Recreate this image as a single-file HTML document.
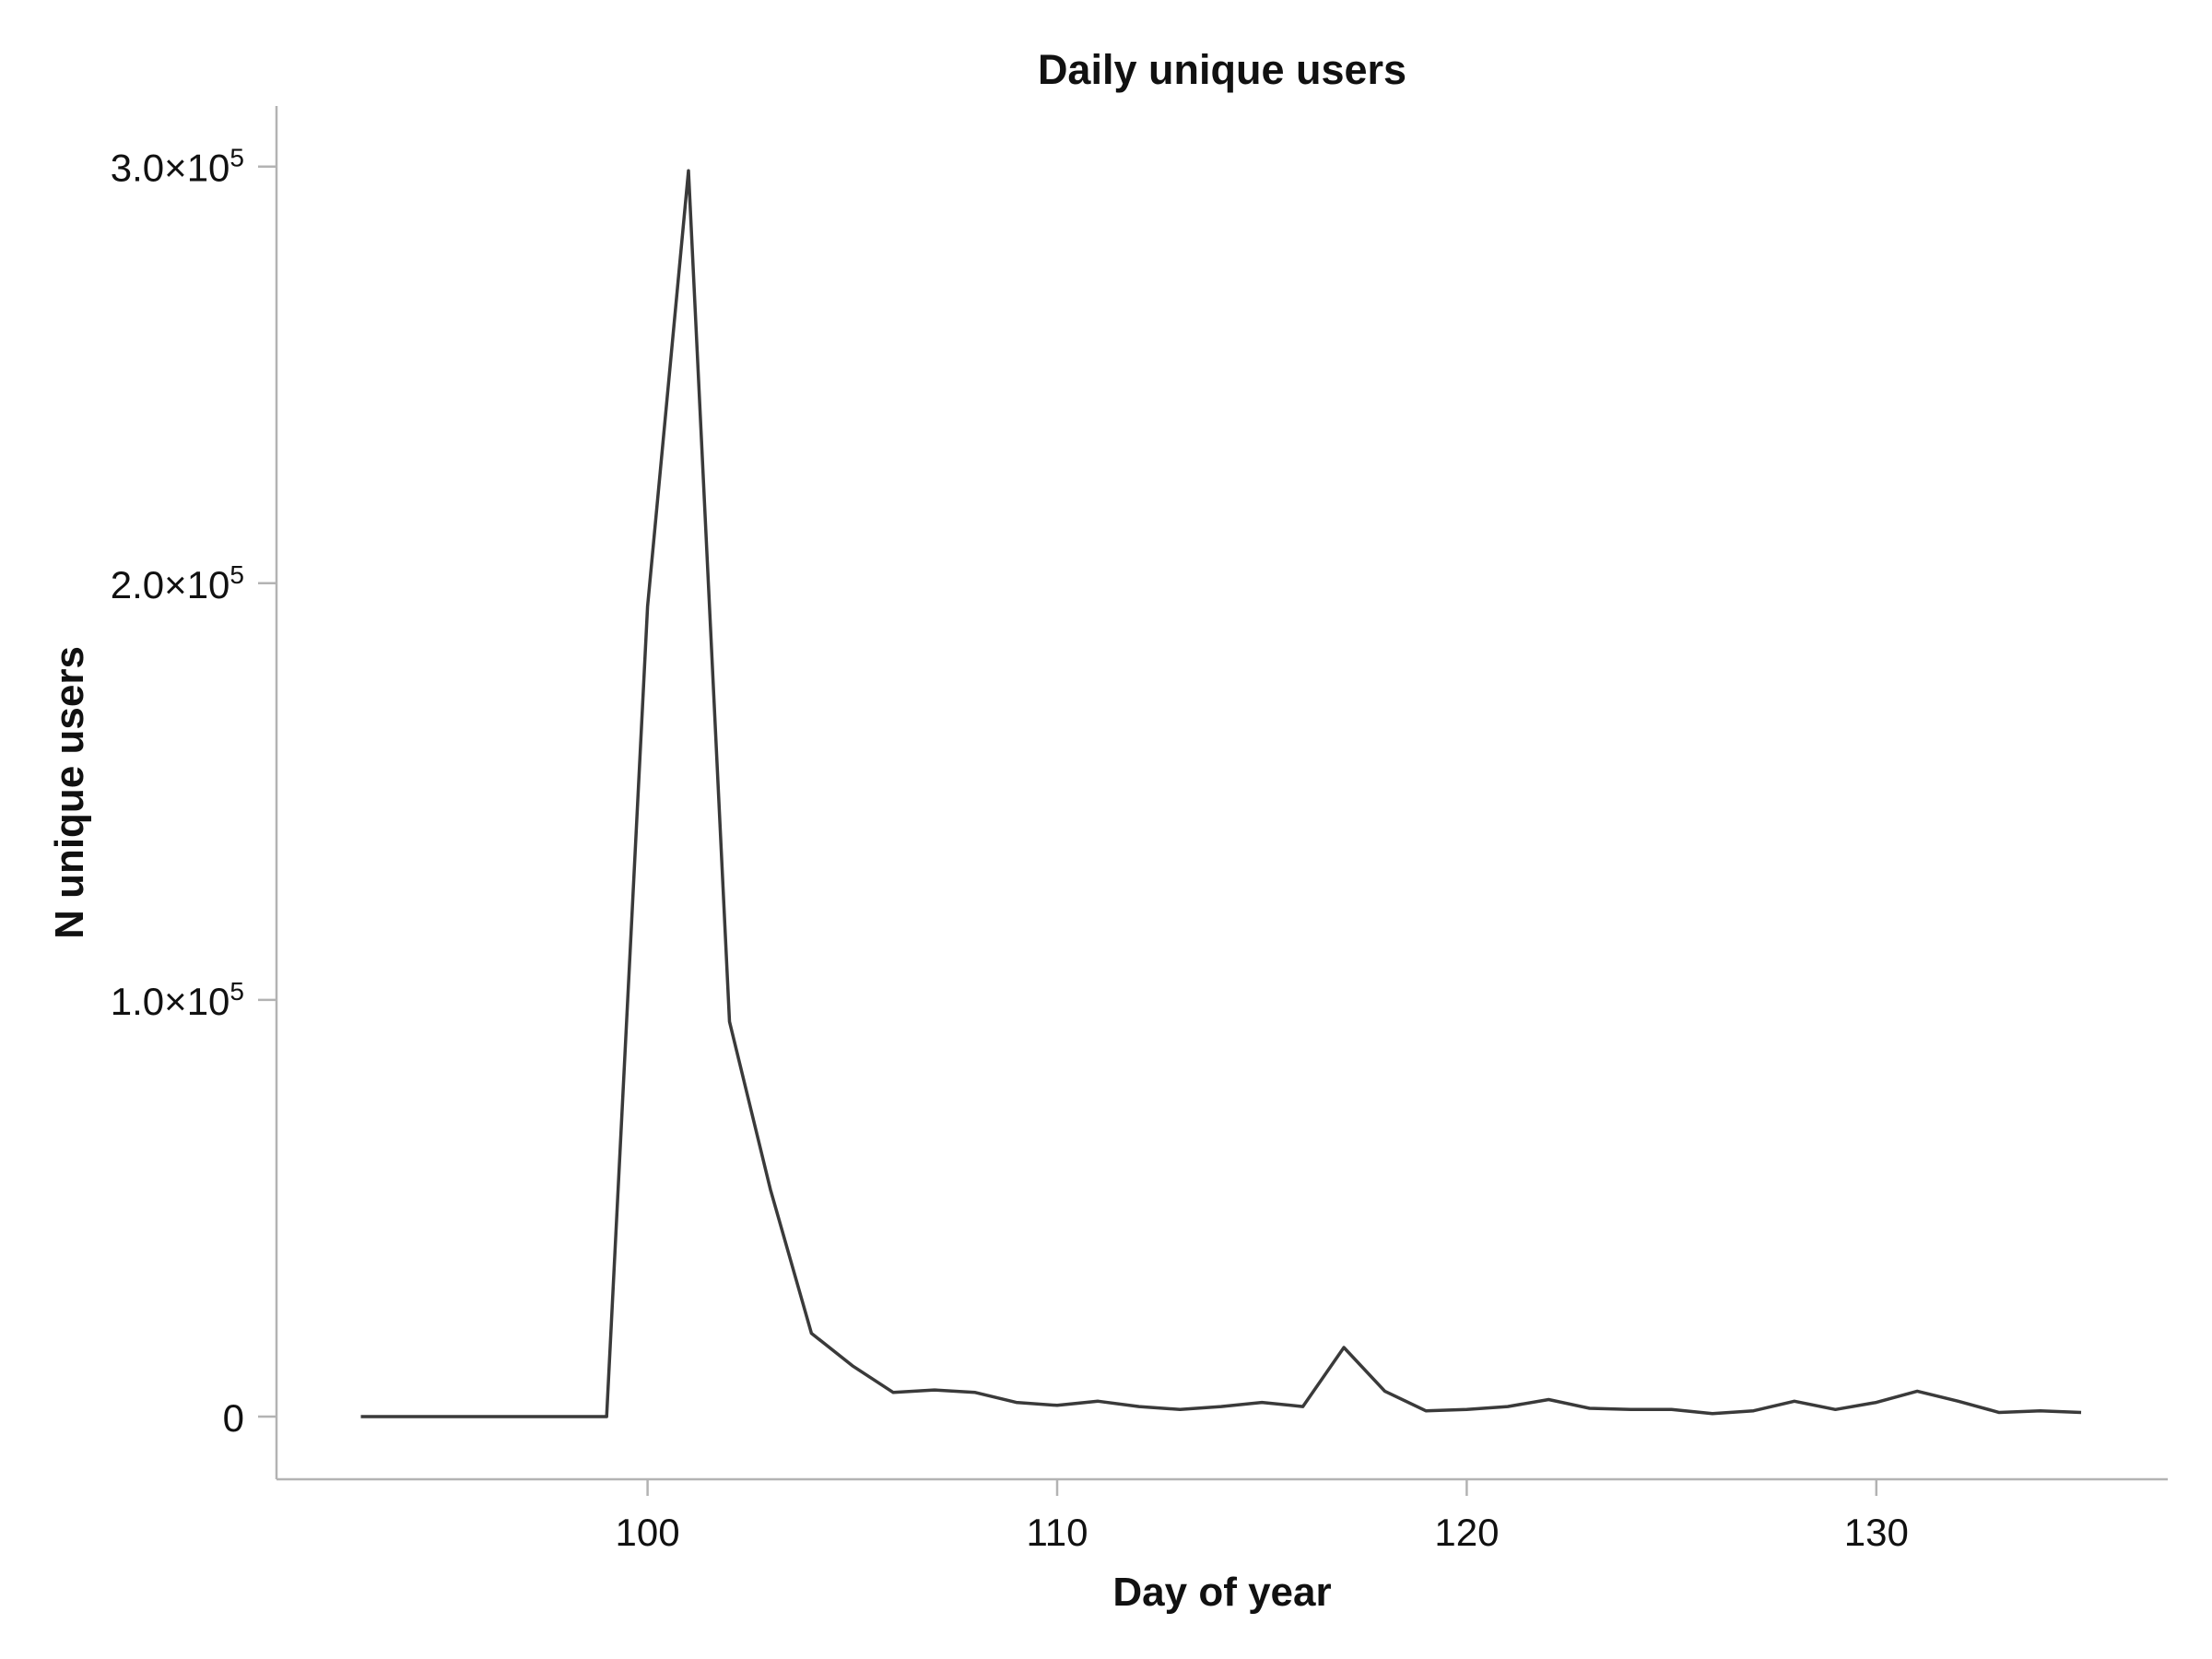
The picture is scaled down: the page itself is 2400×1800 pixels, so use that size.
<!DOCTYPE html>
<html><head><meta charset="utf-8"><style>html,body{margin:0;padding:0;background:#fff}svg{display:block}</style></head>
<body>
<svg id="chart" width="2400" height="1800" xmlns="http://www.w3.org/2000/svg" font-family="Liberation Sans, sans-serif">
<text x="1326" y="91" text-anchor="middle" font-size="45" font-weight="bold" fill="#111">Daily unique users</text>
<text x="1326" y="1742" text-anchor="middle" font-size="44" font-weight="bold" fill="#111">Day of year</text>
<text transform="translate(90,860) rotate(-90)" text-anchor="middle" font-size="44" font-weight="bold" fill="#111">N unique users</text>
<line x1="300" y1="115" x2="300" y2="1605" stroke="#b3b3b3" stroke-width="2.5"/>
<line x1="300" y1="1605" x2="2352" y2="1605" stroke="#b3b3b3" stroke-width="2.5"/>
<g id="ticks"></g>
<path id="series" fill="none" stroke="#3a3a3a" stroke-width="3.5" stroke-linejoin="round"/>
</svg>
<script>
const days = [93,94,95,96,97,98,99,100,101,102,103,104,105,106,107,108,109,110,111,112,113,114,115,116,117,118,119,120,121,122,123,124,125,126,127,128,129,130,131,132,133,134,135];
const users = [0,0,0,0,0,0,0,194400,299000,94800,54500,20000,12200,5800,6400,5800,3400,2700,3700,2400,1700,2400,3400,2400,16600,6100,1400,1700,2400,4100,2000,1700,1700,700,1400,3700,1700,3400,6100,3700,1000,1400,1000];
const xTicks = [100,110,120,130];
const yTicks = [0,100000,200000,300000];
const yTickLabels = ["0","1.0×10","2.0×10","3.0×10"];

function xs(d){ return 702.6 + (d - 100) * 44.44; }
function ys(v){ return 1537 - v / 100000 * 452.1; }

const NS = "http://www.w3.org/2000/svg";
const g = document.getElementById('ticks');
xTicks.forEach(t => {
  const l = document.createElementNS(NS,'line');
  l.setAttribute('x1',xs(t)); l.setAttribute('x2',xs(t));
  l.setAttribute('y1',1605); l.setAttribute('y2',1623);
  l.setAttribute('stroke','#b3b3b3'); l.setAttribute('stroke-width','2.5');
  
  
  g.appendChild(l);
  const tx = document.createElementNS(NS,'text');
  tx.setAttribute('x',xs(t)); tx.setAttribute('y',1677);
  tx.setAttribute('text-anchor','middle'); tx.setAttribute('font-size','42'); tx.setAttribute('fill','#111');
  tx.textContent = t;
  
  
  g.appendChild(tx);
});
yTicks.forEach((t,i) => {
  const l = document.createElementNS(NS,'line');
  l.setAttribute('x1',280); l.setAttribute('x2',300);
  l.setAttribute('y1',ys(t)); l.setAttribute('y2',ys(t));
  l.setAttribute('stroke','#b3b3b3'); l.setAttribute('stroke-width','2.5');
  
  
  g.appendChild(l);
  const tx = document.createElementNS(NS,'text');
  tx.setAttribute('x',265); tx.setAttribute('y',ys(t)+16);
  tx.setAttribute('text-anchor','end'); tx.setAttribute('font-size','42'); tx.setAttribute('fill','#111');
  
  
  if (t === 0) { tx.textContent = yTickLabels[i]; }
  else {
    tx.appendChild(document.createTextNode(yTickLabels[i]));
    const s = document.createElementNS(NS,'tspan');
    s.setAttribute('dy','-16'); s.setAttribute('font-size','28');
    s.textContent = '5';
    tx.appendChild(s);
  }
  g.appendChild(tx);
});
let d = '';
days.forEach((day,i) => { d += (i ? 'L' : 'M') + xs(day).toFixed(1) + ',' + ys(users[i]).toFixed(1); });
document.getElementById('series').setAttribute('d', d);
</script>
</body></html>
